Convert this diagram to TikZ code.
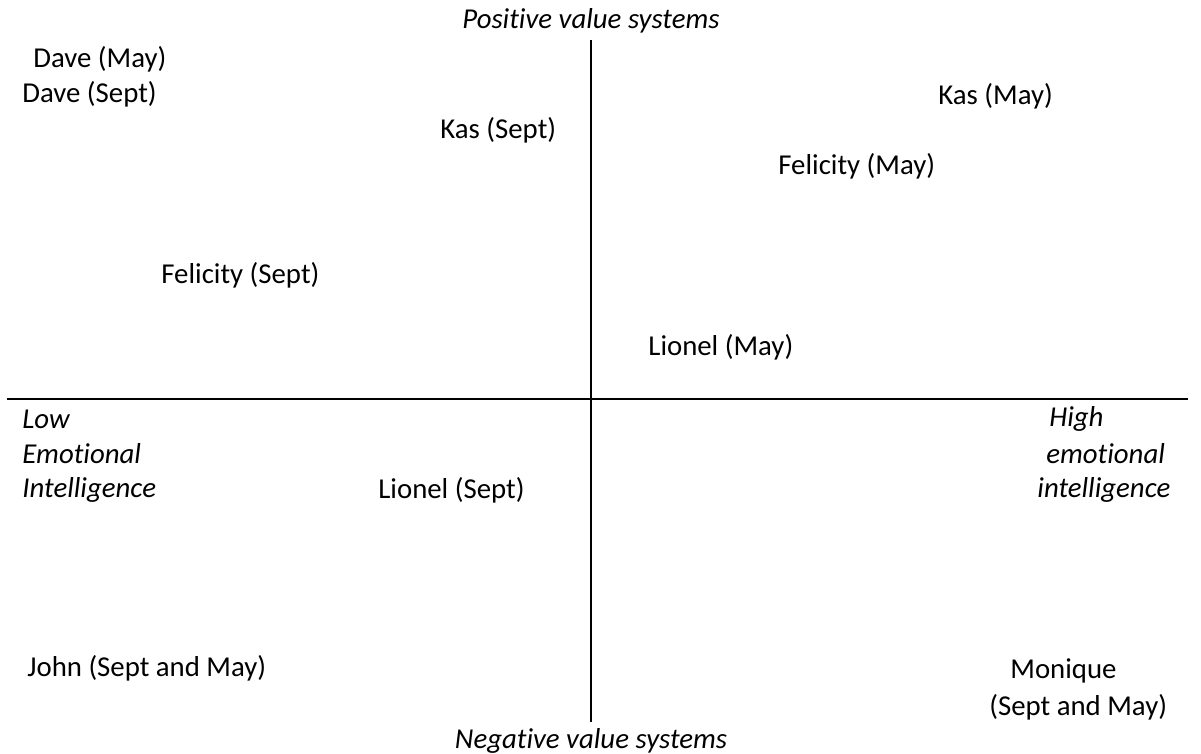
\documentclass[tikz,border=0pt]{standalone}
\usepackage{fontspec}
\setmainfont[RawFeature={-liga;-clig;-calt;-dlig}]{Carlito}
\usetikzlibrary{positioning}

\tikzset{
  lbl/.style={anchor=west, inner sep=0pt, font=\fontsize{14.4}{17}\selectfont},
  axislbl/.style={inner sep=0pt, font=\fontsize{14.4}{17}\selectfont\itshape},
  axis/.style={line width=0.9pt}
}

\begin{document}
\begin{tikzpicture}[x=0.5pt,y=-0.5pt]
\useasboundingbox (0,0) rectangle (1201,754);
% Axes
\coordinate (top) at (591,40);
\coordinate (bottom) at (591,722);
\coordinate (left) at (7,399);
\coordinate (right) at (1188,399);
\draw[axis] (top) -- (bottom);
\draw[axis] (left) -- (right);

% Axis labels
\node[axislbl] (pos) at (591,21) {Positive value systems};
\node[axislbl] (neg) at (591,741) {Negative value systems};
\node[axislbl, anchor=west] (low1) at (22,419) {Low};
\node[axislbl, anchor=west] (low2) at (22,454) {Emotional};
\node[axislbl, anchor=west] (low3) at (22,490) {Intelligence};
\node[axislbl, anchor=west] (high1) at (1049,419) {High};
\node[axislbl, anchor=west] (high2) at (1046,454) {emotional};
\node[axislbl, anchor=west] (high3) at (1037,490) {intelligence};

% People
\node[lbl] (daveMay) at (33,59) {Dave (May)};
\node[lbl] (daveSept) at (22,94) {Dave (Sept)};
\node[lbl] (kasSept) at (440,130) {Kas (Sept)};
\node[lbl] (kasMay) at (938,96) {Kas (May)};
\node[lbl] (felMay) at (778,166) {Felicity (May)};
\node[lbl] (felSept) at (161,275) {Felicity (Sept)};
\node[lbl] (lioMay) at (648,347) {Lionel (May)};
\node[lbl] (lioSept) at (378,490) {Lionel (Sept)};
\node[lbl] (john) at (27,668) {John (Sept and May)};
\node[lbl] (mon1) at (1010,671) {Monique};
\node[lbl] (mon2) at (989,707) {(Sept and May)};
\end{tikzpicture}
\end{document}
